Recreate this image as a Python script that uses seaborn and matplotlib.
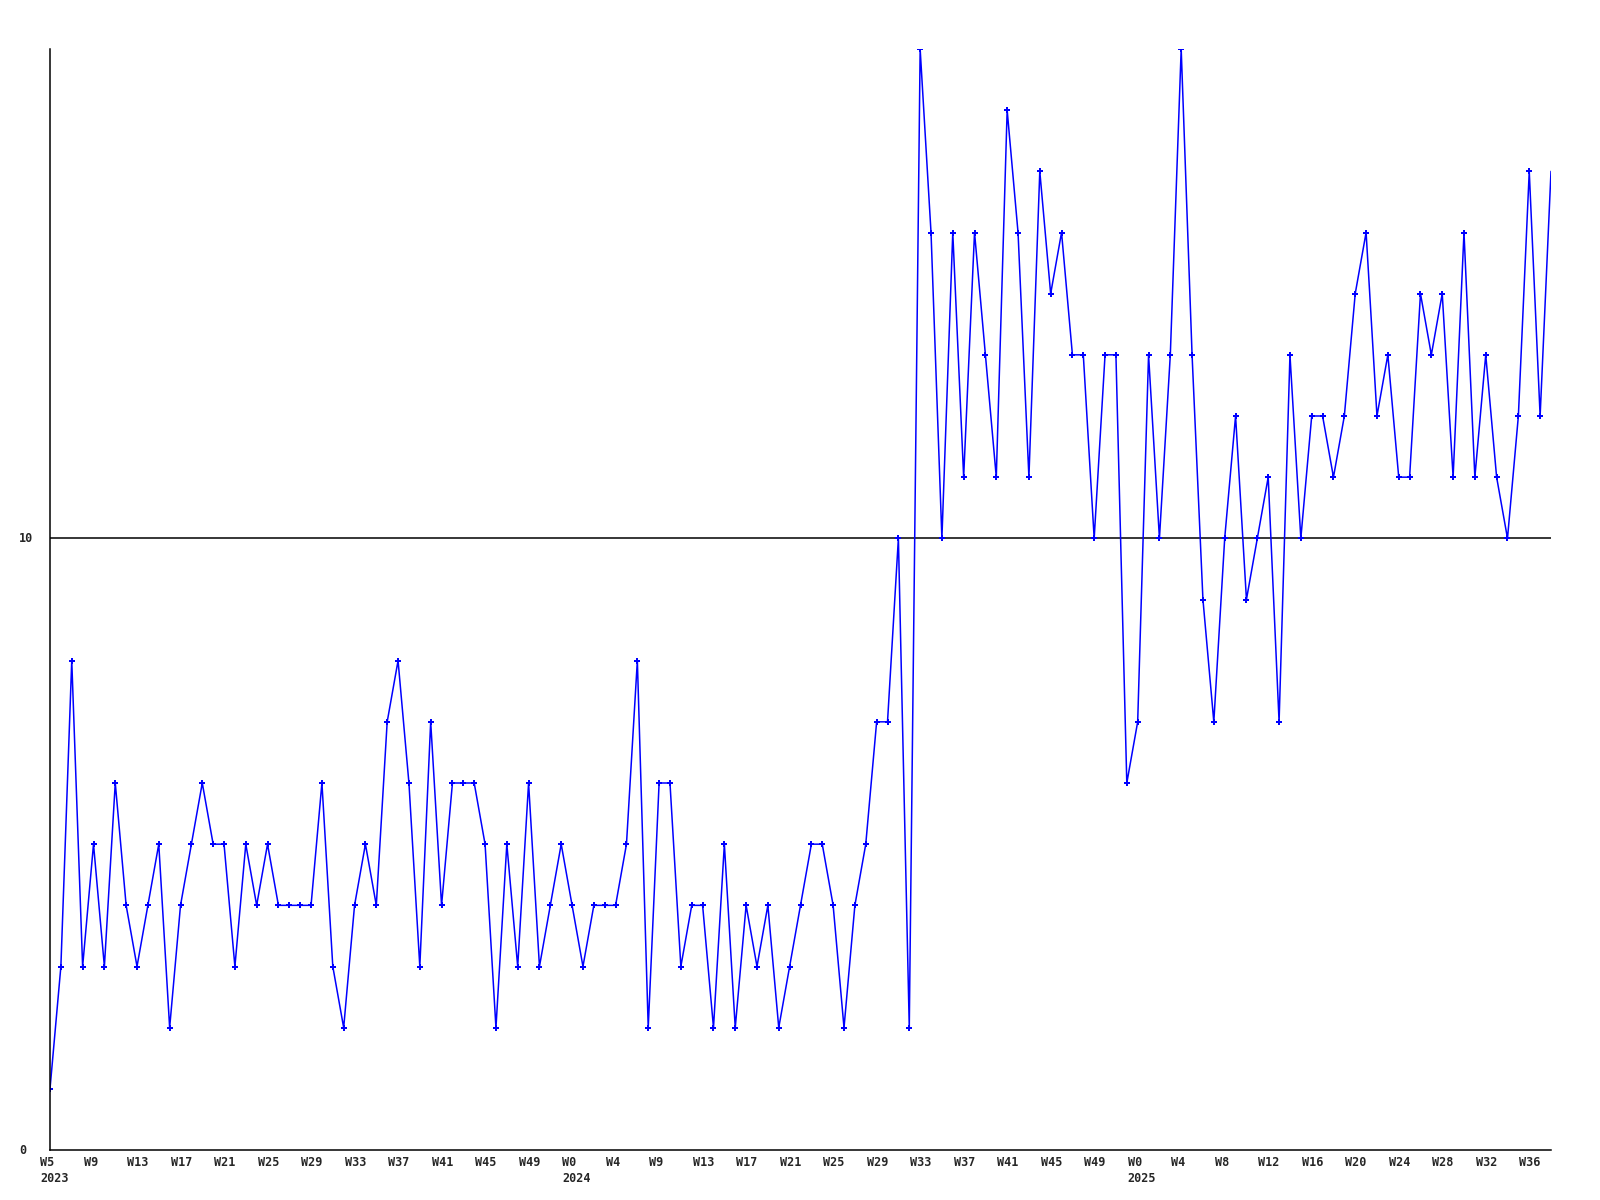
import pandas as pd
import matplotlib
matplotlib.use("Agg")
import matplotlib.pyplot as plt
import matplotlib.transforms as mtransforms
import seaborn as sns

# weekly counts, one per week starting W5 2023
values = [1, 3, 8, 3, 5, 3, 6, 4, 3, 4,
          5, 2, 4, 5, 6, 5, 5, 3, 5, 4,
          5, 4, 4, 4, 4, 6, 3, 2, 4, 5,
          4, 7, 8, 6, 3, 7, 4, 6, 6, 6,
          5, 2, 5, 3, 6, 3, 4, 5, 4, 3,
          4, 4, 4, 5, 8, 2, 6, 6, 3, 4,
          4, 2, 5, 2, 4, 3, 4, 2, 3, 4,
          5, 5, 4, 2, 4, 5, 7, 7, 10, 2,
          18, 15, 10, 15, 11, 15, 13, 11, 17, 15,
          11, 16, 14, 15, 13, 13, 10, 13, 13, 6,
          7, 13, 10, 13, 18, 13, 9, 7, 10, 12,
          9, 10, 11, 7, 13, 10, 12, 12, 11, 12,
          14, 15, 12, 13, 11, 11, 14, 13, 14, 11,
          15, 11, 13, 11, 10, 12, 16, 12, 16]

tick_weeks = ["W5", "W9", "W13", "W17", "W21", "W25", "W29", "W33", "W37", "W41", "W45", "W49",
              "W0", "W4", "W9", "W13", "W17", "W21", "W25", "W29", "W33", "W37", "W41", "W45", "W49",
              "W0", "W4", "W8", "W12", "W16", "W20", "W24", "W28", "W32", "W36"]
year_labels = {0: "2023", 12: "2024", 25: "2025"}
y_ticks = [0, 10]

df = pd.DataFrame({"idx": range(len(values)), "count": values})

sns.set_style("white")
plt.rcParams['font.family'] = ['DejaVu Sans Mono']

fig = plt.figure(figsize=(16, 12), dpi=100)
ax = fig.add_axes([50 / 1600, 1 - 1150 / 1200, 1501 / 1600, 1101 / 1200])

sns.lineplot(data=df, x="idx", y="count", ax=ax, color="#0000ff", linewidth=1.1,
             marker="P", markersize=4.5, markeredgewidth=0, markevery=list(range(len(values) - 1)))
ax.axhline(10, color="black", linewidth=1.1, zorder=0)

ax.set_xlim(0, len(values) - 1)
ax.set_ylim(0, 18)
ax.set_xlabel("")
ax.set_ylabel("")
ax.set_xticks([])
ax.set_yticks([])

# x labels: left edge sits 10px left of the week's point
xtrans = mtransforms.blended_transform_factory(ax.transData, fig.transFigure) + \
    mtransforms.ScaledTranslation(-10 / 100, 0, fig.dpi_scale_trans)
ticks = list(range(0, len(values) - 1, 4))
for i, (t, w) in enumerate(zip(ticks, tick_weeks)):
    lab = w + "\n" + year_labels[i] if i in year_labels else w
    ax.text(t, 1 - 1156 / 1200, lab, transform=xtrans, ha="left", va="top",
            fontsize=8.5, fontweight="bold", linespacing=1.35, clip_on=False)

ytrans = mtransforms.blended_transform_factory(fig.transFigure, ax.transData)
for v in y_ticks:
    ax.text(19 / 1600, v, str(v), transform=ytrans, ha="left", va="center",
            fontsize=8.5, fontweight="bold", clip_on=False)

for s in ["top", "right"]:
    ax.spines[s].set_visible(False)
for s in ["left", "bottom"]:
    ax.spines[s].set_color("black")
    ax.spines[s].set_linewidth(1.1)

fig.savefig("out.png", dpi=100)
